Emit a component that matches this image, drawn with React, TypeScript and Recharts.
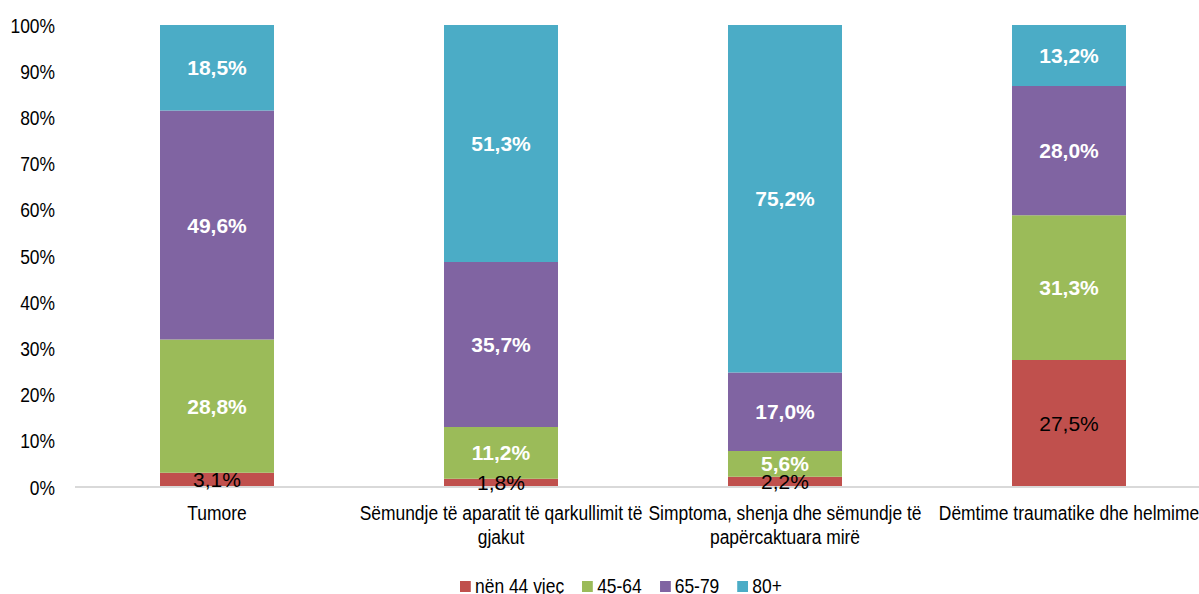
import React from 'react';
import { BarChart, Bar, XAxis, YAxis, Legend, LabelList } from 'recharts';

const categories = [
  'Tumore',
  'Sëmundje të aparatit të qarkullimit të gjakut',
  'Simptoma, shenja dhe sëmundje të papërcaktuara mirë',
  'Dëmtime traumatike dhe helmime',
];
const under44 = [3.1, 1.8, 2.2, 27.5];
const age45to64 = [28.8, 11.2, 5.6, 31.3];
const age65to79 = [49.6, 35.7, 17.0, 28.0];
const age80plus = [18.5, 51.3, 75.2, 13.2];
const yTicks = [0, 10, 20, 30, 40, 50, 60, 70, 80, 90, 100];

const series = [
  { key: 'under44', name: 'nën 44 vjeç', color: '#C0504D', labelColor: '#000000', bold: false },
  { key: 'age45to64', name: '45-64', color: '#9BBB59', labelColor: '#FFFFFF', bold: true },
  { key: 'age65to79', name: '65-79', color: '#8064A2', labelColor: '#FFFFFF', bold: true },
  { key: 'age80plus', name: '80+', color: '#4BACC6', labelColor: '#FFFFFF', bold: true },
];

const data = categories.map((name, i) => ({
  name,
  under44: under44[i],
  age45to64: age45to64[i],
  age65to79: age65to79[i],
  age80plus: age80plus[i],
}));

const FONT = "'Liberation Sans', Arial, sans-serif";
const NARROW = 0.83; // axis text looks like Arial Narrow
const AXIS_SIZE = 21;

const fmt = (v: number) => v.toFixed(1).replace('.', ',') + '%';

let ctx: CanvasRenderingContext2D | null = null;
function measure(text: string) {
  if (!ctx) ctx = document.createElement('canvas').getContext('2d');
  if (!ctx) return text.length * AXIS_SIZE * 0.5;
  ctx.font = `${AXIS_SIZE}px ${FONT}`;
  return ctx.measureText(text).width * NARROW;
}

function wrap(text: string, maxWidth: number) {
  const words = text.split(' ');
  const lines: string[] = [];
  let cur = '';
  words.forEach((w) => {
    const next = cur ? cur + ' ' + w : w;
    if (cur && measure(next) > maxWidth) {
      lines.push(cur);
      cur = w;
    } else {
      cur = next;
    }
  });
  if (cur) lines.push(cur);
  return lines;
}

const YTick = (props: any) => {
  const { x, y, payload } = props;
  return (
    <text
      transform={`translate(${x} ${y}) scale(${NARROW} 1)`}
      textAnchor="end"
      dy="0.36em"
      fontSize={AXIS_SIZE}
      fontFamily={FONT}
      fill="#000"
    >
      {payload.value}%
    </text>
  );
};

const XTick = (props: any) => {
  const { x, y, payload } = props;
  const lines = wrap(payload.value, 290);
  return (
    <text
      transform={`translate(${x} ${y}) scale(${NARROW} 1)`}
      textAnchor="middle"
      fontSize={AXIS_SIZE}
      fontFamily={FONT}
      fill="#000"
    >
      {lines.map((l, i) => (
        <tspan key={i} x={0} y={33 + i * 24}>
          {l}
        </tspan>
      ))}
    </text>
  );
};

const LegendContent = () => (
  <div
    style={{
      display: 'flex',
      alignItems: 'center',
      transform: `scaleX(${NARROW})`,
      transformOrigin: 'left center',
      fontFamily: FONT,
      fontSize: AXIS_SIZE,
      lineHeight: '24px',
      whiteSpace: 'nowrap',
      color: '#000',
    }}
  >
    {series.map((s) => (
      <div key={s.key} style={{ display: 'flex', alignItems: 'center', marginRight: 18 / NARROW }}>
        <span
          style={{
            display: 'inline-block',
            width: 11 / NARROW,
            height: 11,
            background: s.color,
            marginRight: 4 / NARROW,
          }}
        />
        <span>{s.name}</span>
      </div>
    ))}
  </div>
);

export default function App() {
  return (
    <div
      style={{
        position: 'absolute',
        left: 0,
        top: 0,
        width: 1199,
        height: 594,
        overflow: 'hidden',
        background: '#fff',
      }}
    >
      <BarChart
        width={1220}
        height={594}
        data={data}
        margin={{ top: 25, right: 9, bottom: 0, left: 0 }}
        barSize={114}
      >
        <YAxis
          width={75}
          domain={[0, 100]}
          ticks={yTicks}
          axisLine={false}
          tickLine={false}
          tickSize={0}
          tickMargin={20}
          tick={<YTick />}
          interval={0}
        />
        <XAxis
          dataKey="name"
          height={107}
          axisLine={{ stroke: '#D9D9D9', strokeWidth: 2 }}
          tickLine={false}
          tickSize={0}
          tickMargin={0}
          tick={<XTick />}
          interval={0}
        />
        <Legend
          verticalAlign="middle"
          content={<LegendContent />}
          wrapperStyle={{ top: 574, left: 460, width: 'auto', height: 24 }}
        />
        {series.map((s) => (
          <Bar
            key={s.key}
            dataKey={s.key}
            name={s.name}
            stackId="a"
            fill={s.color}
            isAnimationActive={false}
          >
            <LabelList
              dataKey={s.key}
              position="center"
              formatter={(v: any) => fmt(Number(v))}
              fill={s.labelColor}
              fontSize={21}
              fontWeight={s.bold ? 'bold' : 'normal'}
              fontFamily={FONT}
            />
          </Bar>
        ))}
      </BarChart>
    </div>
  );
}
